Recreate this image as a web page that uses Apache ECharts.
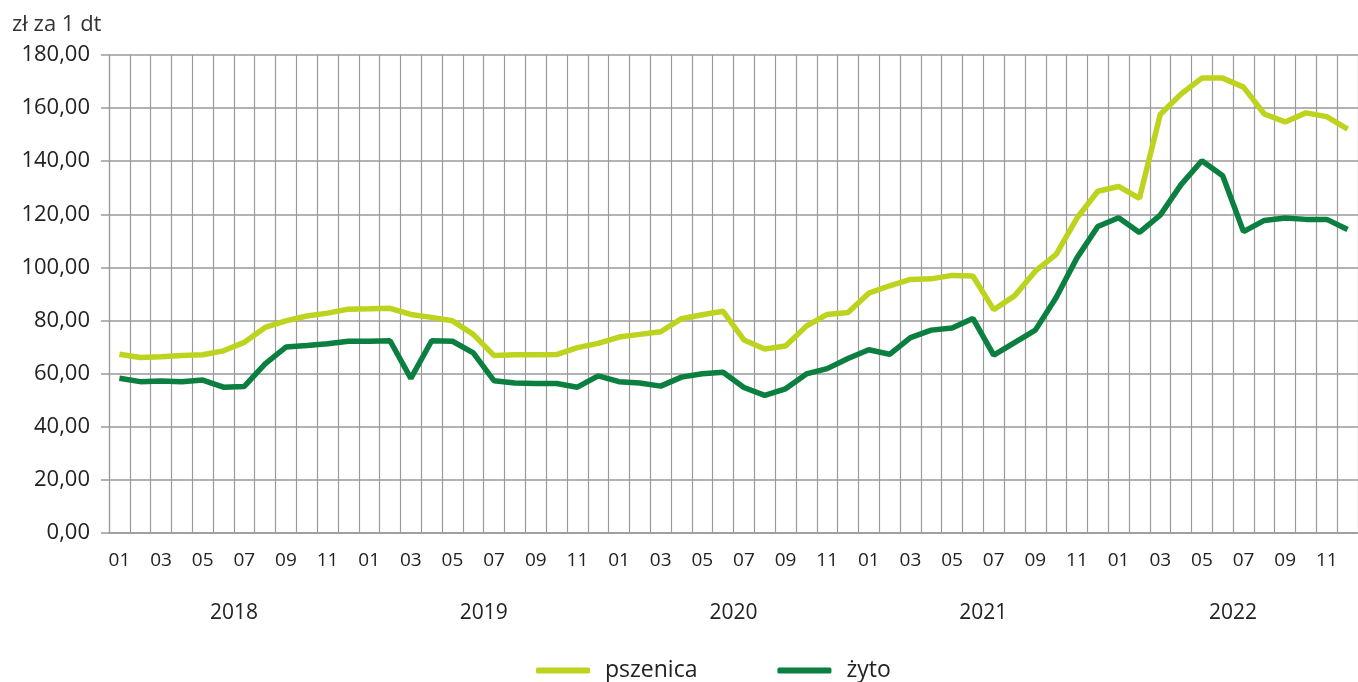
<!DOCTYPE html>
<html>
<head>
<meta charset="utf-8">
<script src="https://cdn.jsdelivr.net/npm/echarts@6/dist/echarts.min.js"></script>
<style>
    html, body { margin: 0; padding: 0; background: #fff; }
    #chart { width: 1358px; height: 682px; }
</style>
</head>
<body>
<div id="chart"></div>
<script>
// miesiące 2018-2022
const years = ["2018", "2019", "2020", "2021", "2022"];
const months = ["01", "02", "03", "04", "05", "06", "07", "08", "09", "10", "11", "12"];
const categories = [];
years.forEach(function (y) {
    months.forEach(function (m) {
        categories.push(m);
    });
});

const pszenica = [
    67.3, 66.1, 66.4, 66.8, 67.1, 68.6, 71.8, 77.4, 79.9, 81.7, 82.8, 84.3,
    84.4, 84.6, 82.3, 81.2, 79.9, 74.8, 66.8, 67.1, 67.1, 67.2, 69.8, 71.4,
    73.8, 74.8, 75.8, 80.7, 82.2, 83.5, 72.7, 69.3, 70.4, 77.9, 82.3, 83.0,
    90.3, 93.1, 95.5, 95.7, 97.0, 96.8, 84.1, 89.3, 98.6, 104.9, 118.6, 128.7,
    130.5, 126.0, 157.6, 165.3, 171.3, 171.3, 167.9, 157.8, 154.8, 158.2, 156.8, 152.1
];
const zyto = [
    58.3, 57.0, 57.2, 57.0, 57.6, 54.9, 55.2, 63.7, 70.0, 70.6, 71.3, 72.2,
    72.2, 72.4, 58.2, 72.4, 72.2, 67.8, 57.3, 56.5, 56.3, 56.3, 54.9, 59.2,
    57.0, 56.5, 55.3, 58.7, 60.0, 60.5, 54.8, 51.8, 54.3, 59.9, 61.9, 65.7,
    69.0, 67.3, 73.6, 76.4, 77.2, 80.8, 67.0, 71.7, 76.4, 88.7, 103.6, 115.4,
    118.7, 113.2, 119.7, 131.2, 140.2, 134.5, 113.5, 117.7, 118.6, 118.1, 118.1, 114.3
];

const yTicks = { min: 0, max: 180, interval: 20 };

const font = "'Open Sans', 'Noto Sans', sans-serif";
const gridColor = "#9a9a9a";

var chart = echarts.init(document.getElementById("chart"));

let option = {
    animation: false,
    textStyle: { fontFamily: font },
    title: {
        text: "zł za 1 dt",
        left: 7,
        top: 9,
        textStyle: { fontFamily: font, fontSize: 22, fontWeight: "normal", color: "#333" },
    },
    legend: {
        top: 654,
        left: 531,
        itemWidth: 54,
        itemHeight: 6,
        itemGap: 80,
        icon: "roundRect",
        textStyle: { fontFamily: font, fontSize: 23, color: "#222", padding: [0, 0, 0, 10] },
        data: ["pszenica", "żyto"],
    },
    grid: {
        left: 109,
        right: -12,
        top: 55,
        bottom: 149,
        containLabel: false,
    },
    xAxis: [
        {
            type: "category",
            position: "bottom",
            data: categories,
            axisLine: { lineStyle: { color: gridColor, width: 1.5 } },
            axisTick: { interval: 0, length: 6, lineStyle: { color: gridColor } },
            axisLabel: {
                interval: function (idx) {
                    return idx % 2 === 0;
                },
                margin: 18,
                fontSize: 19,
                color: "#222",
                fontFamily: font,
            },
            splitLine: { show: true, interval: 0, lineStyle: { color: gridColor, width: 1.2 } },
        },
        {
            type: "category",
            position: "bottom",
            data: years,
            axisLine: { show: false },
            axisTick: {
                interval: 0,
                length: 87,
                lineStyle: { color: gridColor },
            },
            axisLabel: { margin: 70, fontSize: 21, color: "#222", fontFamily: font },
            splitLine: { show: false },
        },
    ],
    yAxis: {
        type: "value",
        min: yTicks.min,
        max: yTicks.max,
        interval: yTicks.interval,
        axisLine: { show: true, lineStyle: { color: gridColor, width: 1.2 } },
        axisTick: { show: true, length: 8, lineStyle: { color: gridColor, width: 1.5 } },
        axisLabel: {
            margin: 19,
            fontSize: 22,
            color: "#222",
            fontFamily: font,
            formatter: function (v) {
                return v.toFixed(2).replace(".", ",");
            },
        },
        splitLine: { lineStyle: { color: gridColor, width: 1.5 } },
    },
    series: [
        {
            name: "pszenica",
            type: "line",
            data: pszenica,
            symbol: "none",
            color: "#bed31e",
            lineStyle: { width: 5.5, color: "#bed31e" },
        },
        {
            name: "żyto",
            type: "line",
            data: zyto,
            symbol: "none",
            color: "#0b7f3f",
            lineStyle: { width: 5.5, color: "#0b7f3f" },
        },
    ],
};

chart.setOption(option);
</script>
</body>
</html>
